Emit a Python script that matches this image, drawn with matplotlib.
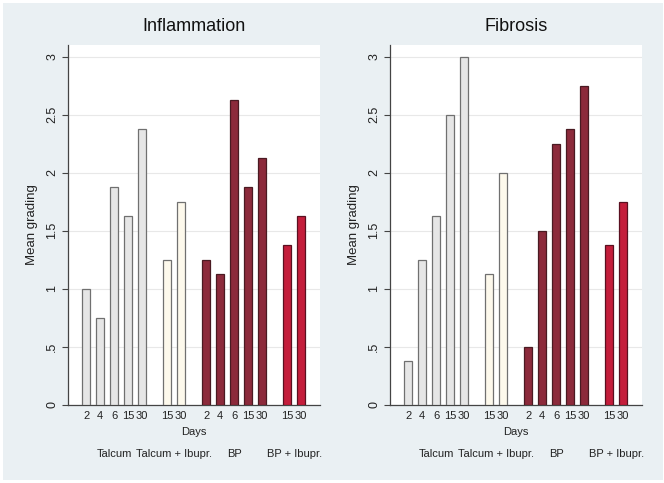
import matplotlib.pyplot as plt
from matplotlib.patches import Rectangle

plt.rcParams['font.family'] = ['Liberation Sans', 'DejaVu Sans']

# data
days = ['2', '4', '6', '15', '30', '15', '30', '2', '4', '6', '15', '30', '15', '30']
groups = ['Talcum', 'Talcum + Ibupr.', 'BP', 'BP + Ibupr.']
group_sizes = [5, 2, 5, 2]
inflammation = [1.0, 0.75, 1.875, 1.625, 2.375, 1.25, 1.75,
                1.25, 1.125, 2.625, 1.875, 2.125, 1.375, 1.625]
fibrosis = [0.375, 1.25, 1.625, 2.5, 3.0, 1.125, 2.0,
            0.5, 1.5, 2.25, 2.375, 2.75, 1.375, 1.75]

bg = '#eaf0f3'
face_colours = ['#e6e6e6', '#fdf9ec', '#8c2a3b', '#c41d3b']
edge_colours = ['#707070', '#707070', '#4a1a22', '#5a1020']

# x positions with a gap between groups
gap = 1.8
xpos, bar_group, centres = [], [], []
x = 0.0
for g, n in enumerate(group_sizes):
    start = x
    for k in range(n):
        xpos.append(x)
        bar_group.append(g)
        x += 1
    centres.append((start + x - 1) / 2)
    x += gap - 1

fig = plt.figure(figsize=(6.64, 4.83), dpi=100)
fig.patch.set_facecolor('white')
fig.patches.append(Rectangle((0.004, 0.006), 0.994, 0.988, transform=fig.transFigure,
                             facecolor=bg, edgecolor='none', zorder=-10))

panels = [('Inflammation', inflammation, 68), ('Fibrosis', fibrosis, 390)]
for title, values, left_px in panels:
    ax = fig.add_axes([left_px / 664, (483 - 405) / 483, 252 / 664, 360 / 483])
    ax.set_facecolor('white')
    for xi, v, g in zip(xpos, values, bar_group):
        ax.bar(xi, v, width=0.57, color=face_colours[g], edgecolor=edge_colours[g],
               linewidth=0.9, zorder=3)
    ax.set_ylim(0, 3.1)
    ax.set_xlim(-1.3, xpos[-1] + 1.35)
    ax.set_yticks([0, 0.5, 1, 1.5, 2, 2.5, 3])
    ax.set_yticklabels(['0', '.5', '1', '1.5', '2', '2.5', '3'], rotation=90,
                       va='center', fontsize=9, color='#222222')
    ax.grid(axis='y', color='#e8e8e8', linewidth=0.8, zorder=0)
    ax.set_xticks(xpos)
    ax.set_xticklabels(days, fontsize=8, color='#222222')
    ax.tick_params(axis='x', length=0, pad=4)
    ax.tick_params(axis='y', length=4, color='#444444', pad=3)
    for s in ['top', 'right']:
        ax.spines[s].set_visible(False)
    for s in ['left', 'bottom']:
        ax.spines[s].set_color('#444444')
        ax.spines[s].set_linewidth(0.9)
    ax.set_title(title, fontsize=13, color='#111111', pad=10)
    ax.set_ylabel('Mean grading', fontsize=9.5, color='#222222', labelpad=6)
    ax.text(sum(ax.get_xlim()) / 2, -0.23, 'Days', ha='center', va='center',
            fontsize=8, color='#222222')
    for c, name in zip(centres, groups):
        ax.text(c, -0.42, name, ha='center', va='center', fontsize=8,
                color='#222222', clip_on=False)

plt.savefig('out.png', dpi=100, facecolor='white')
